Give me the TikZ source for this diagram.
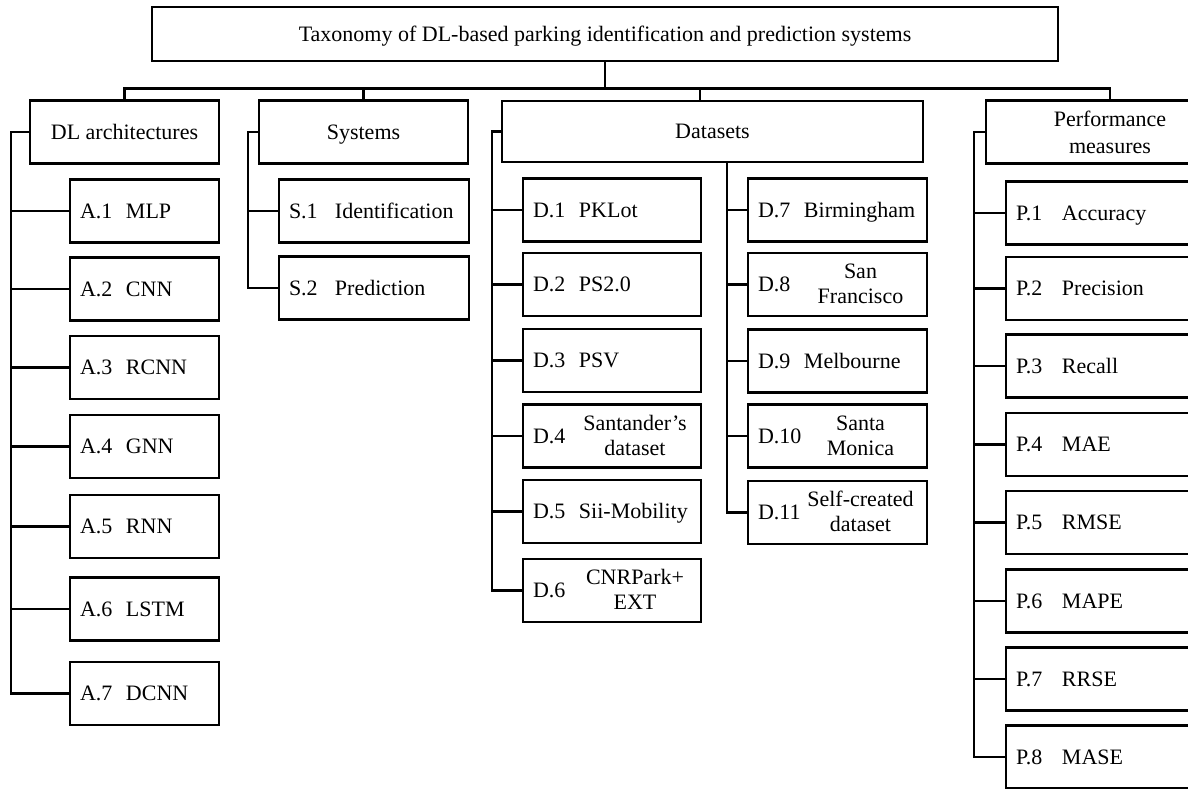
\documentclass[tikz,border=0pt]{standalone}
\usepackage{fontspec}
\setmainfont{Liberation Serif}
\newcommand{\leafrow}[2]{\makebox[46pt][l]{#1}#2}
\newcommand{\leaftwo}[3]{\makebox[46pt][l]{#1}%
  \makebox[\dimexpr\linewidth-46pt\relax][c]{\begin{tabular}{@{}c@{}}#2\\#3\end{tabular}}}

\begin{document}
\begin{tikzpicture}[x=1pt, y=-1pt,
    font=\fontsize{22}{25}\selectfont,
    box/.style={draw, line width=2.8pt, inner sep=0pt},
    oneline/.style={text height=19pt, text depth=5pt},
    head/.style={box, align=center, minimum height=63pt},
    leaf/.style={box, oneline, inner xsep=10pt, text width=#1, minimum height=63pt},
    link/.style={line width=2.8pt}]
    \path[use as bounding box, clip] (0,0) rectangle (1188,788);

    % Root
    \node[head, oneline, minimum width=906pt, minimum height=54pt] (tax) at (605,34)
      {Taxonomy of DL-based parking identification and prediction systems};

    % Categories
    \node[head, oneline, minimum width=189pt] (arch) at (124.5,132) {DL architectures};
    \node[head, oneline, minimum width=209pt] (sys)  at (363.5,132) {Systems};
    \node[head, oneline, minimum width=421pt, minimum height=61pt] (data) at (712.5,131.5) {Datasets};
    \node[head, minimum width=248pt] (perf) at (1110,132) {Performance\\[2pt]measures};

    % Bus below the root
    \coordinate (bus) at (0,88.5);
    \coordinate (datastem) at (700,88.5);
    \draw[link] (tax.south) -- (tax.south |- bus);
    \draw[link] (arch.north) -- (arch.north |- bus) -- (perf.north |- bus) -- (perf.north);
    \draw[link] (sys.north) -- (sys.north |- bus);
    \draw[link] (datastem) -- (datastem |- data.north);

    % Spines
    \coordinate (archspine) at (11,132);
    \coordinate (sysspine)  at (248,132);
    \coordinate (dataspine) at (492,131.5);
    \coordinate (drspine)   at (727,0);
    \coordinate (perfspine) at (974,132);

    % DL architectures
    \foreach \n/\y/\t in {1/211/MLP, 2/289/CNN, 3/367.5/RCNN, 4/446.5/GNN,
                          5/526.5/RNN, 6/609/LSTM, 7/693.5/DCNN} {
      \node[leaf=129pt] (a\n) at (144.5,\y) {\leafrow{A.\n}{\t}};
      \draw[link] (a\n.west) -- (a\n.west -| archspine);
    }
    \draw[link] (arch.west) -- (archspine) |- (a7.west);

    % Systems
    \foreach \n/\y/\t in {1/211/Identification, 2/288/Prediction} {
      \node[leaf=170pt] (s\n) at (374,\y) {\leafrow{S.\n}{\t}};
      \draw[link] (s\n.west) -- (s\n.west -| sysspine);
    }
    \draw[link] (sys.west) -- (sysspine) |- (s2.west);

    % Datasets, left column
    \foreach \n/\y/\t in {1/210/{\leafrow{D.1}{PKLot}},
                          2/284.5/{\leafrow{D.2}{PS2.0}},
                          3/360.5/{\leafrow{D.3}{PSV}},
                          4/436/{\leaftwo{D.4}{Santander's}{dataset}},
                          5/511.5/{\leafrow{D.5}{Sii-Mobility}},
                          6/590.5/{\leaftwo{D.6}{CNRPark+}{EXT}}} {
      \node[leaf=158pt] (d\n) at (612,\y) {\t};
      \draw[link] (d\n.west) -- (d\n.west -| dataspine);
    }
    \draw[link] (data.west) -- (dataspine) |- (d6.west);

    % Datasets, right column
    \foreach \n/\y/\t in {7/210/{\leafrow{D.7}{Birmingham}},
                          8/284.5/{\leaftwo{D.8}{San}{Francisco}},
                          9/361/{\leafrow{D.9}{Melbourne}},
                          10/436/{\leaftwo{D.10}{Santa}{Monica}},
                          11/512.5/{\leaftwo{D.11}{Self-created}{dataset}}} {
      \node[leaf=159pt] (d\n) at (837.5,\y) {\t};
      \draw[link] (d\n.west) -- (d\n.west -| drspine);
    }
    \draw[link] (drspine |- data.south) |- (d11.west);

    % Performance measures
    \foreach \n/\y/\t in {1/213/Accuracy, 2/288.5/Precision, 3/366/Recall, 4/444.5/MAE,
                          5/522.5/RMSE, 6/601/MAPE, 7/679/RRSE, 8/757/MASE} {
      \node[leaf=208pt] (p\n) at (1120,\y) {\leafrow{P.\n}{\t}};
      \draw[link] (p\n.west) -- (p\n.west -| perfspine);
    }
    \draw[link] (perf.west) -- (perfspine) |- (p8.west);
\end{tikzpicture}
\end{document}
